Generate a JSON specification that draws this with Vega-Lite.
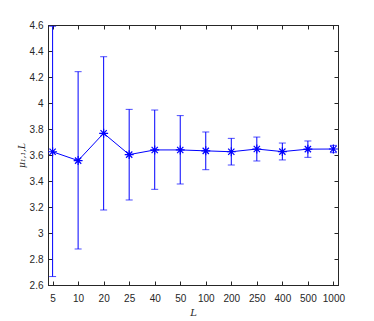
{
  "$schema": "https://vega.github.io/schema/vega-lite/v6.json",
  "width": 290,
  "height": 260,
  "autosize": {"type": "none"},
  "padding": {"left": 48, "top": 25, "right": 36, "bottom": 36},
  "background": "white",
  "config": {
    "view": {"stroke": "#262626", "strokeWidth": 1},
    "axis": {
      "domainColor": "#262626",
      "tickColor": "#262626",
      "labelColor": "#262626",
      "labelFont": "Liberation Sans",
      "labelFontSize": 10,
      "titleFont": "DejaVu Serif",
      "titleFontStyle": "italic",
      "titleFontWeight": "normal",
      "titleFontSize": 10,
      "titleColor": "#262626",
      "grid": false,
      "tickSize": -4,
      "domainWidth": 1,
      "tickWidth": 1
    }
  },
  "data": {
    "values": [
      {"L": 5, "mean": 3.625, "lo": 2.665, "hi": 4.59},
      {"L": 10, "mean": 3.557, "lo": 2.877, "hi": 4.241},
      {"L": 20, "mean": 3.767, "lo": 3.177, "hi": 4.356},
      {"L": 25, "mean": 3.603, "lo": 3.254, "hi": 3.951},
      {"L": 40, "mean": 3.639, "lo": 3.336, "hi": 3.946},
      {"L": 50, "mean": 3.639, "lo": 3.377, "hi": 3.903},
      {"L": 100, "mean": 3.632, "lo": 3.487, "hi": 3.777},
      {"L": 200, "mean": 3.625, "lo": 3.523, "hi": 3.728},
      {"L": 250, "mean": 3.646, "lo": 3.554, "hi": 3.738},
      {"L": 400, "mean": 3.626, "lo": 3.562, "hi": 3.692},
      {"L": 500, "mean": 3.645, "lo": 3.582, "hi": 3.708},
      {"L": 1000, "mean": 3.646, "lo": 3.618, "hi": 3.674}
    ]
  },
  "layer": [
    {
      "mark": {"type": "rule", "color": "#0000FF", "strokeWidth": 1},
      "encoding": {
        "x": {
          "field": "L",
          "type": "ordinal",
          "sort": "ascending",
          "scale": {"type": "point", "padding": 0.18},
          "axis": {"orient": "bottom", "labelAngle": 0, "title": "L", "labelPadding": 12, "titlePadding": 4}
        },
        "y": {
          "field": "lo",
          "type": "quantitative",
          "scale": {"domain": [2.6, 4.6], "nice": false, "zero": false},
          "axis": {
            "orient": "left",
            "values": [2.6, 2.8, 3, 3.2, 3.4, 3.6, 3.8, 4, 4.2, 4.4, 4.6],
            "format": ".1~f",
            "title": "μ₁,₁,L",
            "titleFontSize": 9,
            "labelPadding": 9,
            "titlePadding": 3
          }
        },
        "y2": {"field": "hi"}
      }
    },
    {
      "mark": {"type": "tick", "color": "#0000FF", "size": 7, "thickness": 1},
      "encoding": {
        "x": {"field": "L", "type": "ordinal", "sort": "ascending", "axis": null},
        "y": {"field": "hi", "type": "quantitative", "axis": null}
      }
    },
    {
      "mark": {"type": "tick", "color": "#0000FF", "size": 7, "thickness": 1},
      "encoding": {
        "x": {"field": "L", "type": "ordinal", "sort": "ascending", "axis": null},
        "y": {"field": "lo", "type": "quantitative", "axis": null}
      }
    },
    {
      "mark": {"type": "line", "color": "#0000FF", "strokeWidth": 1},
      "encoding": {
        "x": {"field": "L", "type": "ordinal", "sort": "ascending", "axis": null},
        "y": {"field": "mean", "type": "quantitative", "axis": null}
      }
    },
    {
      "mark": {
        "type": "point",
        "shape": "M-1,0L1,0M0,-1L0,1M-0.7,-0.7L0.7,0.7M-0.7,0.7L0.7,-0.7",
        "filled": false,
        "color": "#0000FF",
        "strokeWidth": 1.2,
        "size": 80,
        "opacity": 1
      },
      "encoding": {
        "x": {
          "field": "L",
          "type": "ordinal",
          "sort": "ascending",
          "axis": {"orient": "top", "labels": false, "title": null}
        },
        "y": {
          "field": "mean",
          "type": "quantitative",
          "axis": {
            "orient": "right",
            "labels": false,
            "title": null,
            "values": [2.6, 2.8, 3, 3.2, 3.4, 3.6, 3.8, 4, 4.2, 4.4, 4.6]
          }
        }
      }
    }
  ],
  "resolve": {"axis": {"x": "independent", "y": "independent"}}
}
